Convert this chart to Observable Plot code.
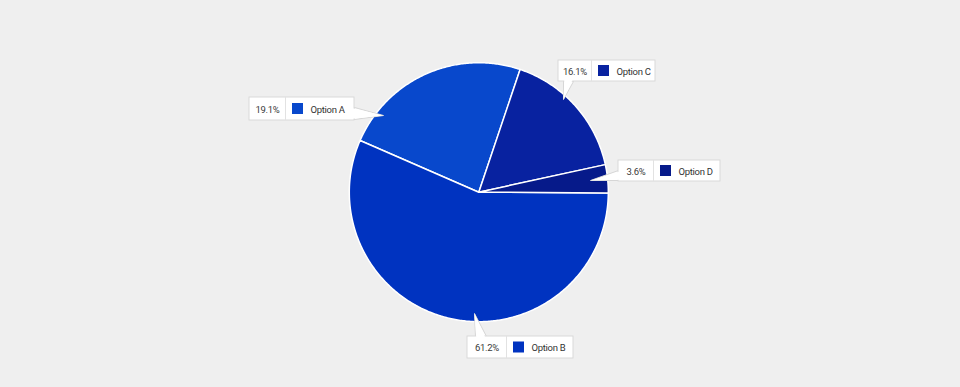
<!DOCTYPE html>
<html>
<head>
<meta charset="utf-8">
<script src="https://cdn.jsdelivr.net/npm/d3@7"></script>
<script src="https://cdn.jsdelivr.net/npm/@observablehq/plot@0.6"></script>
<style>
  html, body { margin: 0; padding: 0; background: #efefef; }
  #chart { width: 960px; height: 387px; }
  #chart svg text { letter-spacing: -0.3px; }
</style>
</head>
<body>
<div id="chart"></div>
<script>
// ---- data ----
const categories = ["Option A", "Option B", "Option C", "Option D"];
const shareLabels = ["19.1%", "61.2%", "16.1%", "3.6%"];      // printed percentages
const sliceValues = [23.6, 56.4, 16.4, 3.5];                  // slice sizes as drawn
const colors = ["#0848cc", "#0033c0", "#0822a0", "#061a8a"];
const drawOrder = ["Option C", "Option D", "Option B", "Option A"]; // clockwise

// ---- layout (pixels) ----
const pie = {cx: 478.3, cy: 191.7, r: 129.5, startDeg: 18.6};
const callouts = [
  {key: "Option A", x1: 249, x2: 354, y1: 97, y2: 120, sep: 285, side: "right", b1: 107, b2: 119, ax: 383, ay: 115},
  {key: "Option B", x1: 467, x2: 573, y1: 336, y2: 358, sep: 506, side: "top", b1: 475, b2: 486, ax: 474, ay: 313},
  {key: "Option C", x1: 558, x2: 655, y1: 60, y2: 81, sep: 591, side: "bottom", b1: 563, b2: 573, ax: 563, ay: 99},
  {key: "Option D", x1: 618, x2: 720, y1: 160, y2: 181, sep: 653, side: "left", b1: 170, b2: 180, ax: 590, ay: 180}
];

// ---- pie geometry ----
const rows = categories.map((c, i) => ({key: c, value: sliceValues[i], label: shareLabels[i], color: colors[i]}));
const arcs = d3.pie().value(d => d.value)
  .sort((a, b) => drawOrder.indexOf(a.key) - drawOrder.indexOf(b.key))
  .startAngle(pie.startDeg * Math.PI / 180)
  .endAngle(pie.startDeg * Math.PI / 180 + 2 * Math.PI)(rows);

const wedgePts = [];
for (const a of arcs) {
  wedgePts.push({key: a.data.key, x: pie.cx, y: pie.cy});
  const n = Math.max(2, Math.ceil((a.endAngle - a.startAngle) / 0.01));
  for (let k = 0; k <= n; k++) {
    const t = a.startAngle + (a.endAngle - a.startAngle) * k / n;
    wedgePts.push({key: a.data.key, x: pie.cx + pie.r * Math.sin(t), y: pie.cy - pie.r * Math.cos(t)});
  }
}

// ---- callout geometry ----
const pointerPts = [], pointerCover = [];
for (const c of callouts) {
  let base;
  const inset = 2;
  if (c.side === "right") base = [[c.x2, c.b1], [c.x2, c.b2]];
  if (c.side === "left") base = [[c.x1, c.b1], [c.x1, c.b2]];
  if (c.side === "top") base = [[c.b1, c.y1], [c.b2, c.y1]];
  if (c.side === "bottom") base = [[c.b1, c.y2], [c.b2, c.y2]];
  const pts = [base[0], [c.ax, c.ay], base[1]];
  pts.forEach(p => pointerPts.push({key: c.key, x: p[0], y: p[1]}));
  const dx = c.side === "right" ? -inset : c.side === "left" ? inset : 0;
  const dy = c.side === "bottom" ? -inset : c.side === "top" ? inset : 0;
  [[base[0][0] + dx + (dy ? 0.8 : 0), base[0][1] + dy + (dx ? 0.8 : 0)], [c.ax, c.ay], [base[1][0] + dx - (dy ? 0.8 : 0), base[1][1] + dy - (dx ? 0.8 : 0)]]
    .forEach(p => pointerCover.push({key: c.key, x: p[0], y: p[1]}));
}
const byKey = Object.fromEntries(rows.map(r => [r.key, r]));
const boxes = callouts.map(c => ({...c, ...byKey[c.key], ym: (c.y1 + c.y2) / 2}));

const font = "Roboto, 'Liberation Sans', sans-serif";

const chart = Plot.plot({
  width: 960,
  height: 387,
  margin: 0,
  x: {domain: [0, 960], range: [0, 960], axis: null},
  y: {domain: [0, 387], range: [0, 387], axis: null},
  color: {domain: categories, range: colors},
  style: {background: "#efefef", fontFamily: font},
  marks: [
    Plot.line(wedgePts, {x: "x", y: "y", z: "key", fill: "key", stroke: "white", strokeWidth: 1.5, curve: "linear-closed", strokeLinejoin: "round"}),
    Plot.line(pointerPts, {x: "x", y: "y", z: "key", fill: "white", stroke: "#d6d6d6", strokeWidth: 1, curve: "linear-closed"}),
    Plot.rect(boxes, {x1: "x1", x2: "x2", y1: "y1", y2: "y2", fill: "white", stroke: "#d9d9d9", strokeWidth: 1}),
    Plot.line(pointerCover, {x: "x", y: "y", z: "key", fill: "white", stroke: "none", curve: "linear-closed"}),
    Plot.ruleX(boxes, {x: "sep", y1: "y1", y2: "y2", stroke: "#e2e2e2", strokeWidth: 1}),
    Plot.rect(boxes, {x1: d => d.sep + 7, x2: d => d.sep + 18, y1: d => d.ym - 5.5, y2: d => d.ym + 5.5, fill: "key"}),
    Plot.text(boxes, {x: d => (d.x1 + d.sep) / 2, y: "ym", text: "label", fill: "#3a3a3a", fontSize: 9.5, textAnchor: "middle", dy: 0.5}),
    Plot.text(boxes, {x: d => d.sep + 25, y: "ym", text: "key", fill: "#333", fontSize: 9.5, textAnchor: "start", dy: 0.5})
  ]
});
document.getElementById("chart").appendChild(chart);
</script>
</body>
</html>
